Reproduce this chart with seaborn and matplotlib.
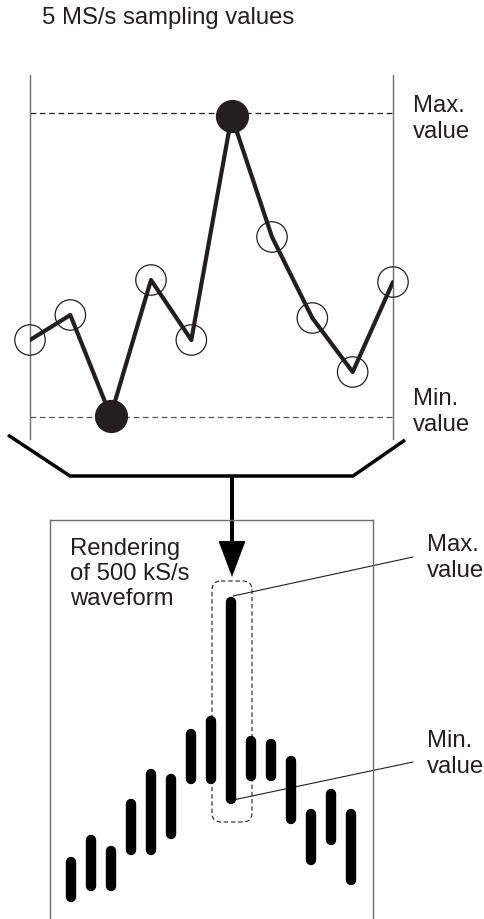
import numpy as np
import pandas as pd
import matplotlib
matplotlib.use("Agg")
import matplotlib.pyplot as plt
from matplotlib.patches import FancyBboxPatch, FancyArrow
import seaborn as sns

# 5 MS/s samples (amplitude, arbitrary units)
sample_idx = list(range(10))
sample_vals = [99, 124, 23, 159, 99, 323, 202, 121, 67, 157]

# 500 kS/s rendering: one min/max bar per 10 samples
bar_idx = list(range(15))
bar_hi = [57, 79, 68, 115, 145, 140, 185, 198, 317, 178, 175, 158, 105, 125, 105]
bar_lo = [22, 33, 33, 69, 69, 85, 140, 140, 120, 143, 143, 100, 59, 79, 39]

title_text = "5 MS/s sampling values"
render_text = "Rendering\nof 500 kS/s\nwaveform"
max_text = "Max.\nvalue"
min_text = "Min.\nvalue"

sns.set_style("white")
plt.rcParams['font.family'] = ['Liberation Sans', 'DejaVu Sans']

INK = "#231f20"
GREY = "#6d6e71"
W, H = 484, 920
fig = plt.figure(figsize=(W / 100, H / 100), dpi=100)

# background axes in pixel coords for the diagram parts
bg = fig.add_axes([0, 0, 1, 1])
bg.set_xlim(0, W)
bg.set_ylim(H, 0)
bg.axis("off")


def px_axes(x0, y0, x1, y1):
    return fig.add_axes([x0 / W, 1 - y1 / H, (x1 - x0) / W, (y1 - y0) / H])


# ---- top panel: sampled values ----
top = px_axes(30, 76, 393, 440)
top.patch.set_alpha(0)
df = pd.DataFrame({"i": sample_idx, "v": sample_vals})
sns.lineplot(data=df, x="i", y="v", ax=top, color=INK, lw=3.0, zorder=3)
imax = int(np.argmax(sample_vals))
imin = int(np.argmin(sample_vals))
others = df.drop(index=[imax, imin])
sns.scatterplot(data=others, x="i", y="v", ax=top, s=480, facecolor="none",
                edgecolor=INK, linewidth=0.9, clip_on=False, zorder=4)
sns.scatterplot(data=df.loc[[imax, imin]], x="i", y="v", ax=top, s=490,
                color=INK, edgecolor=INK, clip_on=False, zorder=5)
top.axhline(max(sample_vals) + 3, color=INK, lw=0.9, ls=(0, (4.5, 3)), zorder=1)
top.axhline(min(sample_vals) - 1, color="#555555", lw=0.9, ls=(0, (4.5, 3)), zorder=1)
top.set_xlim(0, 9)
top.set_ylim(0, 364)
top.set_xticks([])
top.set_yticks([])
top.set_xlabel("")
top.set_ylabel("")
for side in ["top", "bottom"]:
    top.spines[side].set_visible(False)
for side in ["left", "right"]:
    top.spines[side].set_color(GREY)
    top.spines[side].set_linewidth(1.0)

# ---- bottom panel: rendered min/max bars ----
bot = px_axes(50, 521, 373, 925)
bot.patch.set_alpha(0)
for i, lo, hi in zip(bar_idx, bar_lo, bar_hi):
    bot.plot([i, i], [lo, hi], color="black", lw=7.5, solid_capstyle="round", zorder=3)
bot.set_xlim(-1.05, 15.1)
bot.set_ylim(-5, 399)
bot.set_xticks([])
bot.set_yticks([])
bot.spines["bottom"].set_visible(False)
for side in ["left", "right", "top"]:
    bot.spines[side].set_color(GREY)
    bot.spines[side].set_linewidth(1.0)

# ---- decorations ----
fs = 17.2
bg.text(42, 18, title_text, fontsize=fs, color=INK, va="center", ha="left")
bg.text(413, 119, max_text, fontsize=fs, color=INK, va="center", ha="left", linespacing=1.2)
bg.text(413, 412, min_text, fontsize=fs, color=INK, va="center", ha="left", linespacing=1.2)

# funnel
bg.plot([8, 70, 353, 405], [436, 477, 477, 441], color="black", lw=2.5,
        solid_joinstyle="miter", solid_capstyle="butt")
bg.add_patch(FancyArrow(232, 477, 0, 101, width=4, head_width=27, head_length=36,
                        length_includes_head=True, color="black", lw=0))

bg.text(70, 574, render_text, fontsize=fs, color=INK, va="center", ha="left", linespacing=1.15)
bg.text(427, 558, max_text, fontsize=fs, color=INK, va="center", ha="left", linespacing=1.2)
bg.text(427, 754, min_text, fontsize=fs, color=INK, va="center", ha="left", linespacing=1.2)

# dashed box around the peak bar and leader lines
bg.add_patch(FancyBboxPatch((212, 582), 40, 241, boxstyle="round,pad=0,rounding_size=9",
                            fill=False, ec=INK, lw=0.8, ls=(0, (4, 2.5)), zorder=2))
bg.plot([233, 413], [597, 558], color=INK, lw=0.8)
bg.plot([233, 413], [801, 763], color=INK, lw=0.8)

fig.savefig("out.png", dpi=100)
